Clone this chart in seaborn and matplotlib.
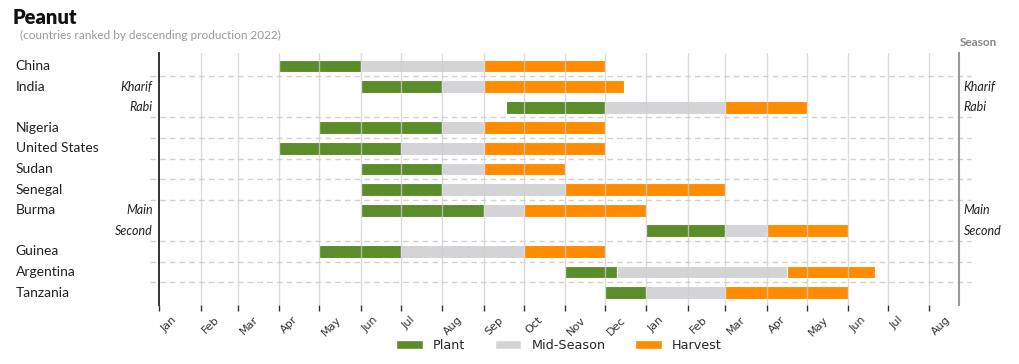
import matplotlib
matplotlib.use("Agg")
import matplotlib.pyplot as plt
import matplotlib.transforms as mtransforms
from matplotlib.patches import Patch
import seaborn as sns

# ---- data (days from Jan 1 of year 1) ----
countries = ["China", "India", "", "Nigeria", "United States", "Sudan", "Senegal",
             "Burma", "", "Guinea", "Argentina", "Tanzania"]
seasons = ["", "Kharif", "Rabi", "", "", "", "", "Main", "Second", "", "", ""]
plant_start = [90, 151, 260, 120, 90, 151, 151, 151, 365, 120, 304, 334]
plant_end = [151, 212, 334, 212, 181, 212, 212, 243, 424, 181, 343, 365]
mid_end = [243, 243, 424, 243, 243, 243, 304, 273, 455, 273, 470, 424]
harvest_end = [334, 348, 485, 334, 334, 304, 424, 365, 516, 334, 536, 516]
month_days = [0, 31, 59, 90, 120, 151, 181, 212, 243, 273, 304, 334,
              365, 396, 424, 455, 485, 516, 546, 577]
month_labels = ["Jan", "Feb", "Mar", "Apr", "May", "Jun", "Jul", "Aug", "Sep", "Oct",
                "Nov", "Dec", "Jan", "Feb", "Mar", "Apr", "May", "Jun", "Jul", "Aug"]
separators = [0.5, 2.5, 3.5, 4.5, 5.5, 6.5, 8.5, 9.5, 10.5]

C_PLANT = "#5b8c2a"
C_MID = "#d4d3d5"
C_HARV = "#ff8c00"

sns.set_style("white")
plt.rcParams["font.family"] = ["Lato", "DejaVu Sans"]

fig = plt.figure(figsize=(10.2, 3.64), dpi=100)
ax = fig.add_axes([0.156, 0.162, 0.784, 0.692])

rows = list(range(len(countries)))
h = 0.62
ax.barh(rows, [e - s for s, e in zip(plant_start, plant_end)], left=plant_start,
        height=h, color=C_PLANT, edgecolor="white", linewidth=0.8, zorder=2)
ax.barh(rows, [e - s for s, e in zip(plant_end, mid_end)], left=plant_end,
        height=h, color=C_MID, edgecolor="white", linewidth=0.8, zorder=2)
ax.barh(rows, [e - s for s, e in zip(mid_end, harvest_end)], left=mid_end,
        height=h, color=C_HARV, edgecolor="white", linewidth=0.8, zorder=2)

ax.set_xlim(0, 599)
ax.set_ylim(11.6, -0.62)

# vertical month gridlines on top of bars
for d in month_days[1:]:
    ax.axvline(d, color="#cfcfcf", lw=1.0, alpha=0.75, zorder=3)

# dashed separators extending past the axes
blend = mtransforms.blended_transform_factory(ax.transAxes, ax.transData)
for y in separators:
    ax.plot([-0.012, 1.015], [y, y], transform=blend, color="#d2d2d2", lw=1.0,
            ls=(0, (4, 3)), clip_on=False, zorder=1)

ax.set_xticks(month_days)
ax.set_xticklabels(month_labels, rotation=45, ha="left", va="top",
                   fontsize=8, family="DejaVu Sans", color="#333333")
ax.tick_params(axis="x", direction="out", length=4, width=1, color="#333333", pad=3,
               bottom=True)
ax.set_yticks([])

for s in ["top", "bottom"]:
    ax.spines[s].set_visible(False)
ax.spines["left"].set_color("#222222")
ax.spines["left"].set_linewidth(1.3)
ax.spines["right"].set_color("#999999")
ax.spines["right"].set_linewidth(1.5)

# labels
ylab = mtransforms.blended_transform_factory(fig.transFigure, ax.transData)
for i, (c, s) in enumerate(zip(countries, seasons)):
    if c:
        fig.text(0.0155, i, c, transform=ylab, ha="left", va="center",
                 fontsize=10, color="#222222")
    if s:
        ax.text(-0.008, i, s, transform=blend, ha="right", va="center",
                fontsize=9, style="italic", color="#222222")
        ax.text(1.006, i, s, transform=blend, ha="left", va="center",
                fontsize=9, style="italic", color="#222222")

fig.text(0.941, 0.882, "Season", ha="left", va="center", fontsize=8.5,
         fontweight="bold", color="#888888")
fig.text(0.012, 0.952, "Peanut", ha="left", va="center", fontsize=14.5,
         fontweight="heavy", color="#111111")
fig.text(0.020, 0.902, "(countries ranked by descending production 2022)",
         ha="left", va="center", fontsize=8.5, color="#999999")

handles = [Patch(facecolor=C_PLANT, edgecolor="white", label="Plant"),
           Patch(facecolor=C_MID, edgecolor="white", label="Mid-Season"),
           Patch(facecolor=C_HARV, edgecolor="white", label="Harvest")]
fig.legend(handles=handles, loc="center", bbox_to_anchor=(0.548, 0.052), ncol=3,
           frameon=False, prop={"family": "DejaVu Sans", "size": 9.2},
           handlelength=2.1, handleheight=0.7, columnspacing=2.3, handletextpad=0.8)

fig.savefig("out.png", dpi=100)
